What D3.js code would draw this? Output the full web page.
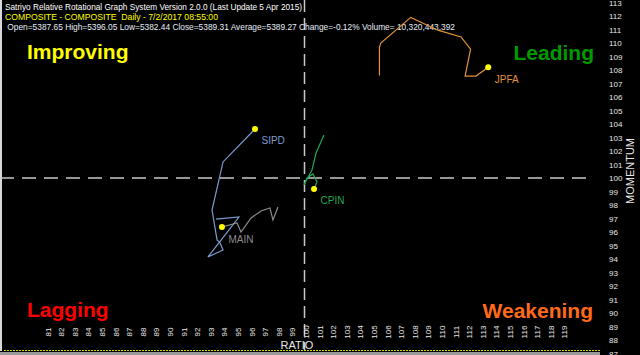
<!DOCTYPE html>
<html>
<head>
<meta charset="utf-8">
<script src="https://cdn.jsdelivr.net/npm/d3@7"></script>
<style>
  html, body { margin: 0; padding: 0; background: #000; }
  svg { display: block; }
</style>
</head>
<body>
<svg id="chart"></svg>
<script>
// tick labels
const ratioTicks = d3.range(81, 120);
const momentumTicks = d3.range(87, 114);

// series points: [ratio, momentum], oldest -> newest
const jpfa = [[105.4, 107.6], [105.4, 109.7], [105.5, 110.0], [107.7, 111.9], [109.7, 110.95],
  [111.4, 110.45], [112.1, 109.55], [111.7, 107.55], [112.5, 107.55], [113.4, 108.2]];
const sipd = [[93.38, 96.96], [95.07, 97.11], [92.79, 94.15], [93.9, 94.67], [93.68, 95.19],
  [93.46, 95.41], [93.09, 97.63], [93.9, 101.19], [96.25, 103.63]];
const main = [[97.94, 97.85], [97.57, 96.89], [97.35, 97.78], [96.69, 97.56], [95.96, 97.04],
  [95.22, 96.0], [94.93, 96.67], [93.82, 96.37]];
const cpin = [[101.32, 103.19], [100.74, 101.85], [100.44, 100.59], [99.85, 99.48], [100.07, 100.0],
  [100.51, 100.3], [100.81, 99.7], [100.59, 99.19]];

const seriesNames = ["JPFA", "SIPD", "MAIN", "CPIN"];
const seriesColors = ["#e3913c", "#7d9bcf", "#8c8c8c", "#22a855"];
const seriesData = [jpfa, sipd, main, cpin];

const headerLines = [
  "Satriyo Relative Rotational Graph System Version 2.0.0 (Last Update 5 Apr 2015)",
  "COMPOSITE - COMPOSITE  Daily - 7/2/2017 08:55:00",
  " Open=5387.65 High=5396.05 Low=5382.44 Close=5389.31 Average=5389.27 Change=-0.12% Volume= 10,320,443,392"
];

const width = 640;
const height = 355;

const svg = d3.select("#chart")
  .attr("width", width)
  .attr("height", height)
  .style("font-family", "Arial, 'Liberation Sans', sans-serif");

svg.append("rect")
  .attr("width", width)
  .attr("height", height)
  .attr("fill", "#000");

// scales
const x = d3.scaleLinear().domain([81, 119]).range([47.6, 564.4]);
const y = d3.scaleLinear().domain([87, 113]).range([353.5, 2.5]);

// frame bits
svg.append("rect").attr("x", 0).attr("y", 0).attr("width", 2).attr("height", 351).attr("fill", "#d8d8d8");
svg.append("rect").attr("x", 0).attr("y", 352).attr("width", 600).attr("height", 3).attr("fill", "#9a9a9a");
svg.append("line")
  .attr("x1", 4).attr("x2", 600)
  .attr("y1", 350.5).attr("y2", 350.5)
  .attr("stroke", "#d8d800")
  .attr("stroke-dasharray", "2,1");

// quadrant labels
const quadrants = [
  { text: "Improving", color: "#ffff00", x: 27, y: 59, anchor: "start" },
  { text: "Leading", color: "#009a00", x: 594, y: 60, anchor: "end" },
  { text: "Lagging", color: "#ff0000", x: 27, y: 317, anchor: "start" },
  { text: "Weakening", color: "#ff6a1a", x: 593, y: 318, anchor: "end" }
];
svg.append("g")
  .selectAll("text")
  .data(quadrants)
  .join("text")
  .attr("x", (d) => d.x)
  .attr("y", (d) => d.y)
  .attr("text-anchor", (d) => d.anchor)
  .attr("fill", (d) => d.color)
  .attr("font-size", 21)
  .attr("font-weight", "bold")
  .text((d) => d.text);

// crosshair at 100/100
svg.append("line")
  .attr("x1", 0).attr("x2", 590)
  .attr("y1", y(100)).attr("y2", y(100))
  .attr("stroke", "#c8c8c8")
  .attr("stroke-width", 1.5)
  .attr("stroke-dasharray", "14,8");

svg.append("line")
  .attr("x1", x(100) - 1.5).attr("x2", x(100) - 1.5)
  .attr("y1", 0).attr("y2", 350)
  .attr("stroke", "#c8c8c8")
  .attr("stroke-width", 1.5)
  .attr("stroke-dasharray", "12,6");

// header
const headerColors = ["#ffffff", "#ffff00", "#e6eef8"];
const headerWidths = [297, 213, 450];
const headerX = [5, 5, 5];
const headerY = [10, 20, 30];
svg.append("g")
  .selectAll("text")
  .data(headerLines)
  .join("text")
  .attr("x", (d, i) => headerX[i])
  .attr("y", (d, i) => headerY[i])
  .attr("fill", (d, i) => headerColors[i])
  .attr("font-size", 9.5)
  .attr("textLength", (d, i) => headerWidths[i])
  .attr("lengthAdjust", "spacingAndGlyphs")
  .attr("xml:space", "preserve")
  .style("white-space", "pre")
  .text((d) => d);

// x axis labels (rotated)
svg.append("g")
  .selectAll("text")
  .data(ratioTicks)
  .join("text")
  .attr("transform", (d) => `translate(${x(d) + 3},332) rotate(-90)`)
  .attr("text-anchor", "middle")
  .attr("fill", "#e8e8e8")
  .attr("font-size", 8)
  .text((d) => d);

svg.append("text")
  .attr("x", 297)
  .attr("y", 349)
  .attr("text-anchor", "middle")
  .attr("fill", "#e8e8e8")
  .attr("font-size", 11)
  .text("RATIO");

// y axis labels
svg.append("g")
  .selectAll("text")
  .data(momentumTicks)
  .join("text")
  .attr("x", 609)
  .attr("y", (d) => y(d) + 3)
  .attr("fill", "#e8e8e8")
  .attr("font-size", 8)
  .text((d) => d);

svg.append("text")
  .attr("transform", "translate(634,171) rotate(-90)")
  .attr("text-anchor", "middle")
  .attr("fill", "#e8e8e8")
  .attr("font-size", 11)
  .text("MOMENTUM");

// tails
const line = d3.line()
  .x((d) => x(d[0]))
  .y((d) => y(d[1]));

const tails = svg.append("g");
seriesData.forEach((data, i) => {
  tails.append("path")
    .attr("d", line(data))
    .attr("fill", "none")
    .attr("stroke", seriesColors[i])
    .attr("stroke-width", 1.2);
});

// head dots and names
seriesData.forEach((data, i) => {
  const last = data[data.length - 1];
  tails.append("circle")
    .attr("cx", x(last[0]))
    .attr("cy", y(last[1]))
    .attr("r", 3)
    .attr("fill", "#ffff00");
  tails.append("text")
    .attr("x", x(last[0]) + 6.5)
    .attr("y", y(last[1]) + 15.5)
    .attr("fill", seriesColors[i])
    .attr("font-size", 10)
    .text(seriesNames[i]);
});
</script>
</body>
</html>
